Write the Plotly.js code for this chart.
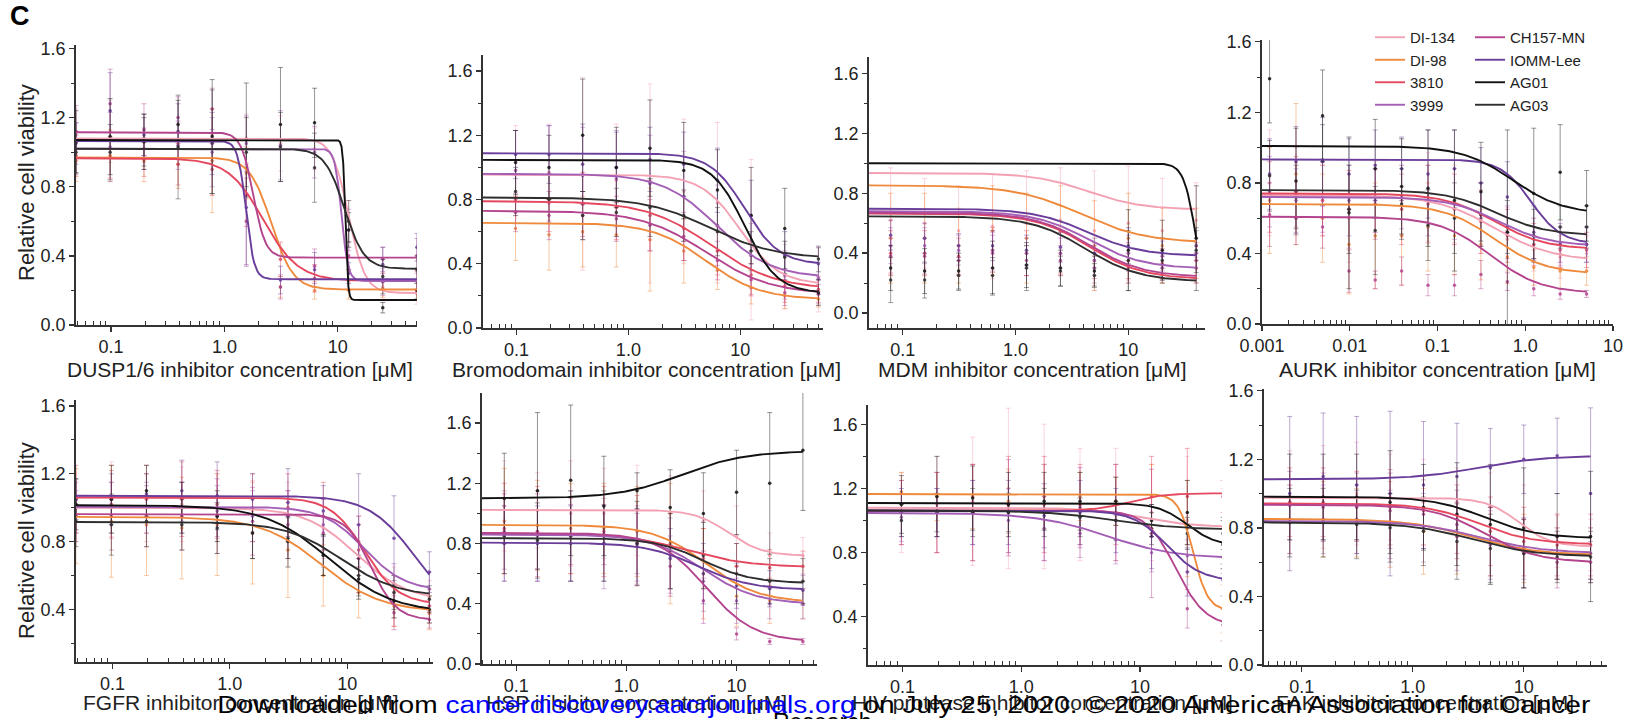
<!DOCTYPE html>
<html><head><meta charset="utf-8">
<script src="https://cdn.plot.ly/plotly-3.0.1.min.js"></script>
<style>html,body{margin:0;padding:0;background:#fff;}#chart{width:1628px;height:719px;}</style>
</head><body><div id="chart"></div>
<script>
// ---------------- DATA ----------------
const seriesNames = ['DI-134','DI-98','3810','3999','CH157-MN','IOMM-Lee','AG01','AG03'];
const xTitles = ['DUSP1/6 inhibitor concentration [μM]','Bromodomain inhibitor concentration [μM]','MDM inhibitor concentration [μM]','AURK inhibitor concentration [μM]','FGFR inhibitor concentration [μM]','HSP inhibitor concentration [μM]','HIV protease inhibitor concentration [μM]','FAK inhibitor concentration [μM]'];
const yTitle = 'Relative cell viability';
const panelLabel = 'C';
const xTickVals = [0.1,1,10];
const xTickText = ['0.1','1.0','10'];
const xTickValsAurk = [0.001,0.01,0.1,1,10];
const xTickTextAurk = ['0.001','0.01','0.1','1.0','10'];
const yTickVals = [0,0.4,0.8,1.2,1.6];
const yTickText = ['0.0','0.4','0.8','1.2','1.6'];

// Panel 1: DUSP1/6
const p1Conc = [0.049,0.098,0.195,0.39,0.78,1.56,3.125,6.25,12.5,25,50];
const p1Top = [1.08,0.97,0.965,1.02,1.115,1.065,1.07,1.02];
const p1Bottom = [0.185,0.205,0.255,0.255,0.39,0.265,0.145,0.325];
const p1IC50 = [12.5,2.6,2.2,10.8,1.8,1.55,11.7,11.5];
const p1Hill = [6,4.5,2.8,15,8,12,40,5];
const p1Mean = [
 [1.10,1.12,1.08,1.05,1.10,1.08,1.05,1.02,0.60,0.22,0.18],
 [0.95,0.98,0.95,0.93,0.95,0.88,0.22,0.20,0.20,0.21,0.20],
 [0.98,0.97,0.96,0.93,0.90,0.75,0.38,0.27,0.26,0.25,0.26],
 [1.02,1.03,1.02,1.04,1.00,1.05,1.04,1.00,0.55,0.25,0.26],
 [1.12,1.28,1.13,1.20,1.25,0.60,0.22,0.34,0.40,0.38,0.40],
 [1.05,1.24,1.10,1.12,1.05,0.68,0.26,0.32,0.30,0.35,0.45],
 [1.06,1.09,1.06,1.16,1.09,1.07,1.16,1.17,0.55,0.10,0.20],
 [1.00,1.00,1.06,1.03,1.06,1.00,1.03,0.91,0.60,0.28,0.32]];
const p1SD = [
 [0.15,0.18,0.14,0.12,0.15,0.14,0.16,0.12,0.12,0.08,0.06],
 [0.12,0.15,0.12,0.14,0.30,0.15,0.06,0.05,0.05,0.05,0.05],
 [0.12,0.12,0.10,0.12,0.15,0.18,0.10,0.08,0.06,0.05,0.05],
 [0.15,0.20,0.12,0.14,0.20,0.16,0.20,0.15,0.12,0.08,0.07],
 [0.15,0.20,0.15,0.12,0.12,0.25,0.07,0.10,0.08,0.07,0.10],
 [0.12,0.22,0.12,0.16,0.18,0.34,0.08,0.10,0.06,0.10,0.08],
 [0.18,0.22,0.16,0.14,0.33,0.33,0.33,0.20,0.10,0.03,0.05],
 [0.12,0.16,0.14,0.30,0.30,0.20,0.20,0.20,0.12,0.10,0.08]];

// Panel 2: Bromodomain
const p2Conc = [0.098,0.195,0.39,0.78,1.56,3.125,6.25,12.5,25,50];
const p2Top = [0.955,0.655,0.79,0.96,0.73,1.088,1.047,0.813];
const p2Bottom = [0.27,0.177,0.24,0.312,0.21,0.395,0.218,0.433];
const p2IC50 = [10,5,5.5,6.2,5,11,11,5.4];
const p2Hill = [2.5,1.8,1.5,1.8,1.5,2.8,3,1.5];
const p2Mean = [
 [0.98,0.97,0.96,0.92,0.90,0.85,0.78,0.55,0.32,0.30],
 [0.62,0.58,0.60,0.58,0.55,0.48,0.36,0.25,0.20,0.18],
 [0.80,0.78,0.77,0.75,0.70,0.62,0.48,0.33,0.26,0.24],
 [0.98,0.96,0.95,0.93,0.90,0.82,0.64,0.45,0.33,0.31],
 [0.72,0.70,0.70,0.68,0.64,0.57,0.42,0.30,0.22,0.21],
 [1.08,1.08,1.02,1.00,1.05,1.02,0.92,0.70,0.45,0.40],
 [1.03,1.00,1.20,1.00,1.12,0.98,0.86,0.70,0.62,0.22],
 [0.85,0.80,0.70,0.72,0.75,0.70,0.60,0.48,0.44,0.43]];
const p2SD = [
 [0.28,0.30,0.60,0.35,0.62,0.45,0.50,0.50,0.20,0.20],
 [0.20,0.22,0.22,0.20,0.32,0.20,0.12,0.10,0.08,0.05],
 [0.15,0.18,0.20,0.20,0.22,0.20,0.15,0.12,0.10,0.08],
 [0.25,0.30,0.30,0.30,0.30,0.28,0.25,0.20,0.15,0.10],
 [0.12,0.15,0.15,0.14,0.16,0.15,0.12,0.10,0.08,0.06],
 [0.15,0.18,0.25,0.22,0.20,0.20,0.20,0.22,0.15,0.10],
 [0.20,0.20,0.35,0.25,0.30,0.30,0.25,0.30,0.25,0.08],
 [0.15,0.15,0.15,0.15,0.18,0.16,0.15,0.12,0.10,0.08]];

// Panel 3: MDM
const p3Conc = [0.078,0.156,0.3125,0.625,1.25,2.5,5,10,20,40];
const p3Top = [0.935,0.853,0.664,0.68,0.67,0.697,1.0,0.646];
const p3Bottom = [0.69,0.468,0.225,0.296,0.24,0.38,0.0,0.21];
const p3IC50 = [4.4,3.8,4.5,4.5,4.5,4.4,40,4.2];
const p3Hill = [1.8,1.5,1.8,1.8,1.8,1.8,8,1.8];
const p3Mean = [
 [0.62,0.60,0.55,0.58,0.60,0.62,0.55,0.60,0.55,0.62],
 [0.50,0.50,0.45,0.55,0.50,0.55,0.45,0.50,0.45,0.45],
 [0.40,0.40,0.38,0.42,0.40,0.40,0.35,0.35,0.33,0.35],
 [0.45,0.45,0.42,0.42,0.40,0.40,0.35,0.40,0.38,0.40],
 [0.38,0.38,0.35,0.40,0.35,0.35,0.30,0.30,0.30,0.30],
 [0.52,0.50,0.45,0.45,0.42,0.44,0.40,0.45,0.40,0.45],
 [0.30,0.28,0.28,0.30,0.32,0.30,0.28,0.42,0.42,0.50],
 [0.22,0.22,0.25,0.25,0.30,0.28,0.25,0.35,0.35,0.42]];
const p3SD = [
 [0.35,0.30,0.30,0.35,0.35,0.35,0.40,0.38,0.35,0.25],
 [0.30,0.30,0.25,0.30,0.30,0.30,0.30,0.30,0.25,0.25],
 [0.15,0.15,0.12,0.15,0.15,0.14,0.12,0.12,0.10,0.12],
 [0.12,0.12,0.10,0.12,0.10,0.10,0.10,0.12,0.10,0.10],
 [0.12,0.12,0.10,0.12,0.10,0.10,0.10,0.10,0.08,0.10],
 [0.10,0.10,0.08,0.10,0.10,0.10,0.10,0.12,0.10,0.10],
 [0.15,0.15,0.12,0.18,0.15,0.12,0.10,0.27,0.20,0.35],
 [0.15,0.12,0.10,0.12,0.15,0.10,0.08,0.20,0.15,0.15]];

// Panel 4: AURK
const p4Conc = [0.00122,0.00244,0.0049,0.0098,0.0195,0.039,0.078,0.156,0.3125,0.625,1.25,2.5,5];
const p4Top = [0.73,0.68,0.74,0.72,0.608,0.933,1.009,0.759];
const p4Bottom = [0.357,0.283,0.423,0.442,0.174,0.453,0.623,0.502];
const p4IC50 = [0.45,0.45,0.45,0.5,0.4,1.17,0.72,0.47];
const p4Hill = [1.3,1.5,1.5,1.5,1.5,2.5,1.5,1.5];
const p4Mean = [
 [0.80,0.75,0.70,0.60,0.72,0.70,0.72,0.68,0.60,0.48,0.45,0.38,0.40],
 [0.70,0.85,0.60,0.45,0.50,0.50,0.55,0.50,0.45,0.38,0.32,0.30,0.30],
 [0.72,0.75,0.70,0.65,0.68,0.65,0.68,0.65,0.58,0.50,0.45,0.42,0.42],
 [0.75,0.70,0.72,0.70,0.70,0.72,0.70,0.68,0.62,0.52,0.48,0.45,0.45],
 [0.62,0.60,0.55,0.30,0.25,0.30,0.22,0.22,0.28,0.24,0.20,0.17,0.17],
 [0.85,0.92,0.92,0.85,0.90,0.88,0.85,0.88,0.80,0.72,0.52,0.45,0.45],
 [1.39,0.81,1.18,0.63,0.88,0.78,0.77,0.70,0.75,0.52,0.74,0.86,0.67],
 [0.84,0.72,0.93,0.65,0.53,0.68,0.56,0.60,0.62,0.55,0.50,0.55,0.55]];
const p4SD = [
 [0.30,0.25,0.20,0.25,0.20,0.20,0.25,0.22,0.20,0.18,0.15,0.12,0.10],
 [0.30,0.40,0.25,0.28,0.30,0.28,0.25,0.22,0.20,0.15,0.10,0.10,0.08],
 [0.20,0.20,0.20,0.22,0.20,0.20,0.22,0.20,0.18,0.15,0.12,0.10,0.10],
 [0.20,0.18,0.20,0.20,0.18,0.18,0.20,0.20,0.18,0.15,0.12,0.12,0.10],
 [0.18,0.15,0.12,0.12,0.05,0.08,0.06,0.06,0.08,0.05,0.04,0.03,0.02],
 [0.20,0.20,0.25,0.20,0.20,0.18,0.25,0.22,0.20,0.20,0.15,0.10,0.10],
 [0.25,0.30,0.26,0.43,0.28,0.27,0.33,0.40,0.28,0.58,0.37,0.27,0.20],
 [0.20,0.18,0.20,0.25,0.25,0.20,0.20,0.20,0.18,0.15,0.15,0.12,0.12]];

// Panel 5: FGFR
const p5Conc = [0.049,0.098,0.195,0.39,0.78,1.56,3.125,6.25,12.5,25,50];
const p5Top = [1.0,0.946,1.06,1.005,0.962,1.07,1.015,0.916];
const p5Bottom = [0.45,0.385,0.43,0.51,0.337,0.35,0.38,0.474];
const p5IC50 = [12,6,14,14,16,38,7,9];
const p5Hill = [2,1.7,3,2.5,4,2.2,1.6,1.8];
const p5Mean = [
 [1.00,1.05,1.00,1.02,1.00,0.98,0.95,0.88,0.70,0.50,0.47],
 [0.95,0.92,0.90,0.88,0.90,0.85,0.75,0.60,0.50,0.42,0.38],
 [1.05,1.02,1.05,1.05,1.02,1.00,1.00,0.95,0.75,0.45,0.42],
 [1.00,1.00,1.00,1.00,0.98,0.95,0.95,0.90,0.80,0.55,0.52],
 [0.95,0.95,0.95,0.95,0.95,0.92,0.90,0.85,0.70,0.38,0.34],
 [1.05,1.05,1.08,1.10,1.07,1.05,1.03,0.98,0.90,0.82,0.62],
 [1.02,1.05,1.10,1.00,0.95,0.85,0.80,0.72,0.58,0.45,0.40],
 [0.92,0.90,0.92,0.90,0.88,0.85,0.82,0.72,0.60,0.50,0.46]];
const p5SD = [
 [0.20,0.22,0.20,0.22,0.20,0.18,0.20,0.18,0.20,0.15,0.10],
 [0.28,0.33,0.30,0.30,0.30,0.30,0.28,0.18,0.15,0.12,0.10],
 [0.20,0.20,0.20,0.22,0.20,0.20,0.20,0.20,0.20,0.15,0.10],
 [0.15,0.15,0.15,0.15,0.15,0.15,0.15,0.15,0.15,0.12,0.10],
 [0.15,0.20,0.18,0.20,0.22,0.20,0.20,0.20,0.20,0.10,0.05],
 [0.12,0.15,0.12,0.18,0.20,0.15,0.20,0.15,0.30,0.25,0.12],
 [0.15,0.20,0.15,0.15,0.15,0.15,0.15,0.12,0.12,0.10,0.08],
 [0.15,0.18,0.15,0.15,0.15,0.15,0.12,0.12,0.12,0.10,0.08]];

// Panel 6: HSP
const p6Conc = [0.078,0.156,0.3125,0.625,1.25,2.5,5,10,20,40];
const p6Top = [1.024,0.924,0.87,0.86,0.87,0.806,1.10,0.836];
const p6Bottom = [0.718,0.408,0.643,0.397,0.148,0.492,1.416,0.537];
const p6IC50 = [8.5,5.3,3.5,5,5.3,4.5,3.2,5];
const p6Hill = [2.8,1.8,1.5,1.8,2,1.8,1.5,2];
const p6Mean = [
 [1.05,1.02,1.00,1.00,1.02,1.00,0.95,0.85,0.72,0.72],
 [0.95,0.92,0.90,0.90,0.88,0.80,0.60,0.45,0.42,0.40],
 [0.90,0.88,0.85,0.88,0.82,0.75,0.70,0.65,0.64,0.65],
 [0.85,0.85,0.85,0.80,0.80,0.72,0.55,0.42,0.40,0.40],
 [0.88,0.88,0.86,0.86,0.80,0.65,0.42,0.20,0.15,0.15],
 [0.80,0.80,0.80,0.80,0.78,0.70,0.60,0.52,0.50,0.49],
 [1.10,1.15,1.22,1.05,1.15,1.04,1.00,1.14,1.20,1.42],
 [0.85,0.82,0.85,0.85,0.80,0.75,0.72,0.60,0.55,0.55]];
const p6SD = [
 [0.30,0.25,0.35,0.30,0.30,0.25,0.20,0.20,0.15,0.12],
 [0.35,0.30,0.30,0.30,0.30,0.40,0.30,0.20,0.15,0.10],
 [0.30,0.30,0.25,0.30,0.30,0.25,0.20,0.15,0.12,0.10],
 [0.30,0.30,0.30,0.30,0.25,0.25,0.20,0.15,0.10,0.10],
 [0.25,0.25,0.20,0.20,0.20,0.20,0.15,0.04,0.02,0.02],
 [0.25,0.25,0.25,0.25,0.25,0.20,0.20,0.15,0.12,0.10],
 [0.30,0.52,0.50,0.33,0.12,0.25,0.27,0.28,0.47,0.40],
 [0.25,0.25,0.30,0.30,0.28,0.25,0.22,0.20,0.15,0.15]];

// Panel 7: HIV protease
const p7Conc = [0.098,0.195,0.39,0.78,1.56,3.125,6.25,12.5,25,50];
const p7Top = [1.08,1.165,1.06,1.047,1.063,1.063,1.109,1.063];
const p7Bottom = [0.96,0.44,1.17,0.763,0.342,0.622,0.84,0.943];
const p7IC50 = [10,28,8,5.2,20,17,25,6];
const p7Hill = [2,7,3,1.5,3.5,3,3.5,1.5];
const p7Mean = [
 [1.05,1.10,1.12,1.20,1.15,1.10,1.10,1.05,1.00,0.95],
 [1.18,1.15,1.15,1.12,1.15,1.15,1.12,1.15,0.95,0.45],
 [1.05,1.05,1.05,1.10,1.10,1.10,1.10,1.15,1.15,1.15],
 [1.02,1.05,1.05,1.00,0.95,0.92,0.88,0.80,0.78,0.77],
 [1.05,1.05,1.05,1.08,1.05,1.08,1.05,0.92,0.45,0.35],
 [1.05,1.05,1.05,1.05,1.03,1.05,1.00,0.90,0.68,0.63],
 [1.10,1.15,1.14,1.10,1.12,1.12,1.12,1.00,1.05,0.85],
 [1.00,1.05,1.05,1.05,1.05,1.02,1.00,0.95,0.92,0.92]];
const p7SD = [
 [0.25,0.30,0.40,0.50,0.45,0.35,0.35,0.30,0.40,0.25],
 [0.12,0.15,0.20,0.20,0.20,0.15,0.15,0.20,0.30,0.15],
 [0.20,0.25,0.30,0.30,0.30,0.25,0.25,0.25,0.30,0.10],
 [0.15,0.15,0.20,0.20,0.20,0.15,0.15,0.12,0.10,0.10],
 [0.20,0.25,0.30,0.30,0.30,0.25,0.30,0.40,0.12,0.10],
 [0.15,0.15,0.20,0.20,0.20,0.20,0.20,0.20,0.15,0.10],
 [0.18,0.25,0.20,0.20,0.18,0.18,0.15,0.10,0.20,0.15],
 [0.10,0.12,0.15,0.12,0.15,0.12,0.12,0.10,0.10,0.10]];

// Panel 8: FAK
const p8Conc = [0.078,0.156,0.3125,0.625,1.25,2.5,5,10,20,40];
const p8Top = [0.975,0.852,0.943,0.84,0.935,1.083,0.982,0.832];
const p8Bottom = [0.69,0.64,0.704,0.652,0.597,1.221,0.739,0.632];
const p8IC50 = [9,3.5,4,4,4.5,4,4.5,3.5];
const p8Hill = [3,1.5,1.8,1.5,1.8,1.5,1.8,1.5];
const p8Mean = [
 [0.95,0.98,1.00,0.98,0.95,0.95,0.92,0.85,0.72,0.70],
 [0.85,0.85,0.83,0.82,0.78,0.75,0.72,0.68,0.65,0.65],
 [0.95,0.95,0.93,0.92,0.90,0.85,0.78,0.72,0.70,0.70],
 [0.85,0.85,0.85,0.82,0.80,0.75,0.70,0.68,0.65,0.65],
 [0.93,0.92,0.92,0.90,0.88,0.82,0.72,0.65,0.60,0.60],
 [1.00,1.10,1.05,1.00,1.05,1.10,1.15,1.20,1.22,1.00],
 [0.98,0.98,0.98,0.95,0.92,0.88,0.82,0.80,0.75,0.75],
 [0.83,0.83,0.82,0.80,0.78,0.72,0.68,0.65,0.63,0.63]];
const p8SD = [
 [0.30,0.30,0.30,0.25,0.25,0.20,0.20,0.20,0.15,0.15],
 [0.20,0.22,0.20,0.25,0.25,0.22,0.20,0.20,0.15,0.15],
 [0.20,0.20,0.20,0.22,0.20,0.20,0.20,0.20,0.18,0.18],
 [0.20,0.20,0.20,0.20,0.20,0.20,0.20,0.18,0.15,0.15],
 [0.20,0.20,0.20,0.22,0.20,0.20,0.20,0.20,0.15,0.12],
 [0.45,0.37,0.40,0.48,0.37,0.31,0.23,0.20,0.22,0.50],
 [0.25,0.25,0.25,0.30,0.25,0.30,0.35,0.35,0.25,0.38],
 [0.20,0.20,0.20,0.20,0.20,0.22,0.20,0.20,0.15,0.15]];

// ---------------- STYLE / LAYOUT ----------------
const W = 1628, H = 719;
const seriesColors = ['#f3a2b4','#ef8a3c','#e5485e','#a35fb5','#b4448e','#6a3d9a','#111111','#2e2e2e'];
const FONT = 'Liberation Sans, Arial, sans-serif';
const AX = '#333333';

const panels = [
 {conc:p1Conc, top:p1Top, bot:p1Bottom, ic:p1IC50, hill:p1Hill, mean:p1Mean, sd:p1SD, xpx:[76,417], xr:[-1.31,1.70], ypx:[45,325], yr:[0,1.62], tx:240, ty:369},
 {conc:p2Conc, top:p2Top, bot:p2Bottom, ic:p2IC50, hill:p2Hill, mean:p2Mean, sd:p2SD, xpx:[483,823], xr:[-1.30,1.74], ypx:[55,328], yr:[0,1.70], tx:646, ty:369},
 {conc:p3Conc, top:p3Top, bot:p3Bottom, ic:p3IC50, hill:p3Hill, mean:p3Mean, sd:p3SD, xpx:[869,1205], xr:[-1.30,1.68], ypx:[57,328], yr:[-0.10,1.71], tx:1032, ty:369},
 {conc:p4Conc, top:p4Top, bot:p4Bottom, ic:p4IC50, hill:p4Hill, mean:p4Mean, sd:p4SD, xpx:[1262,1613], xr:[-3,1], ypx:[40,324], yr:[0,1.61], tx:1437, ty:369, aurk:true},
 {conc:p5Conc, top:p5Top, bot:p5Bottom, ic:p5IC50, hill:p5Hill, mean:p5Mean, sd:p5SD, xpx:[76,433], xr:[-1.31,1.73], ypx:[400,662], yr:[0.09,1.635], tx:241, ty:702},
 {conc:p6Conc, top:p6Top, bot:p6Bottom, ic:p6IC50, hill:p6Hill, mean:p6Mean, sd:p6SD, xpx:[482,817], xr:[-1.31,1.73], ypx:[393,664], yr:[0,1.80], tx:636, ty:702},
 {conc:p7Conc, top:p7Top, bot:p7Bottom, ic:p7IC50, hill:p7Hill, mean:p7Mean, sd:p7SD, xpx:[868,1222], xr:[-1.29,1.69], ypx:[405,665], yr:[0.10,1.72], tx:1042, ty:702},
 {conc:p8Conc, top:p8Top, bot:p8Bottom, ic:p8IC50, hill:p8Hill, mean:p8Mean, sd:p8SD, xpx:[1264,1607], xr:[-1.34,1.75], ypx:[389,665], yr:[0,1.61], tx:1425, ty:702}
];

function rgba(hex, a){
  const n = parseInt(hex.slice(1),16);
  return 'rgba('+((n>>16)&255)+','+((n>>8)&255)+','+(n&255)+','+a+')';
}
const minorX = [];
for (let k=-4;k<=2;k++) for (let m=2;m<=9;m++) minorX.push(m*Math.pow(10,k));

const traces = [];
const legFont = {size:15,family:FONT,color:'#222'};
const layout = {
  width:W, height:H, autosize:false,
  margin:{l:0,r:0,t:0,b:0,pad:0},
  paper_bgcolor:'#ffffff', plot_bgcolor:'rgba(0,0,0,0)',
  font:{family:FONT, color:'#222', size:18},
  showlegend:true,
  legend:{x:1370/W, y:1-21/H, xanchor:'left', yanchor:'top', bgcolor:'rgba(0,0,0,0)', font:legFont, tracegroupgap:0, itemwidth:30},
  legend2:{x:1470/W, y:1-21/H, xanchor:'left', yanchor:'top', bgcolor:'rgba(0,0,0,0)', font:legFont, tracegroupgap:0, itemwidth:30},
  annotations:[], shapes:[]
};

panels.forEach((p, i) => {
  const ax = i===0 ? '' : String(i+1);
  const xa = 'x'+ax, ya = 'y'+ax;
  layout['xaxis'+ax] = {
    type:'log', range:p.xr, anchor:ya,
    domain:[p.xpx[0]/W, p.xpx[1]/W],
    tickmode:'array', tickvals: p.aurk ? xTickValsAurk : xTickVals, ticktext: p.aurk ? xTickTextAurk : xTickText,
    ticks:'outside', ticklen:5, tickwidth:1.3, tickcolor:AX,
    minor:{tickmode:'array', tickvals:minorX, ticks:'inside', ticklen:4, tickwidth:1, tickcolor:AX, showgrid:false},
    showline:true, linecolor:AX, linewidth:1.8, mirror:false,
    showgrid:false, zeroline:false, fixedrange:true,
    tickfont:{size:18, family:FONT, color:'#222'}
  };
  layout['yaxis'+ax] = {
    range:p.yr, anchor:xa,
    domain:[1-p.ypx[1]/H, 1-p.ypx[0]/H],
    tickmode:'array', tickvals:yTickVals, ticktext:yTickText,
    ticks:'outside', ticklen:5, tickwidth:1.3, tickcolor:AX,
    minor:{tickmode:'array', tickvals:[0.2,0.6,1.0,1.4], ticks:'outside', ticklen:3, tickwidth:1, tickcolor:AX, showgrid:false},
    showline:true, linecolor:AX, linewidth:1.8, mirror:false,
    showgrid:false, zeroline:false, fixedrange:true,
    tickfont:{size:18, family:FONT, color:'#222'}
  };
  // error-bar points
  seriesNames.forEach((name, s) => {
    traces.push({
      type:'scatter', mode:'markers', x:p.conc, y:p.mean[s], xaxis:xa, yaxis:ya,
      showlegend:false, hoverinfo:'skip',
      marker:{size:3.5, color:rgba(seriesColors[s],0.85)},
      error_y:{type:'data', array:p.sd[s], visible:true, color:rgba(seriesColors[s],0.45), thickness:1, width:2.5}
    });
  });
  // fitted curves
  const x0 = Math.pow(10, p.xr[0]);
  const x1 = p.conc[p.conc.length-1];
  const N = 200;
  seriesNames.forEach((name, s) => {
    const xs = [], ys = [];
    for (let k=0;k<N;k++){
      const lx = Math.log10(x0) + (Math.log10(x1)-Math.log10(x0))*k/(N-1);
      const xv = Math.pow(10,lx);
      xs.push(xv);
      ys.push(p.bot[s] + (p.top[s]-p.bot[s])/(1+Math.pow(xv/p.ic[s], p.hill[s])));
    }
    traces.push({
      type:'scatter', mode:'lines', x:xs, y:ys, xaxis:xa, yaxis:ya,
      name:name, showlegend: i===0, legend: s<4 ? 'legend' : 'legend2',
      line:{color:seriesColors[s], width:1.9}, hoverinfo:'skip'
    });
  });
  layout.annotations.push({
    xref:'paper', yref:'paper', x:p.tx/W, y:1-p.ty/H, xanchor:'center', yanchor:'middle',
    text:xTitles[i], showarrow:false, font:{size:21, family:FONT, color:'#222'}
  });
});

// y titles
[183, 541].forEach(py => {
  layout.annotations.push({
    xref:'paper', yref:'paper', x:26/W, y:1-py/H, xanchor:'center', yanchor:'middle',
    text:yTitle, textangle:-90, showarrow:false, font:{size:22, family:FONT, color:'#222'}
  });
});
// panel letter
layout.annotations.push({
  xref:'paper', yref:'paper', x:20/W, y:1-16/H, xanchor:'center', yanchor:'middle',
  text:'<b>'+panelLabel+'</b>', showarrow:false, font:{size:27, family:FONT, color:'#000'}
});
// watermark
const wmLine1 = 'Downloaded from <span style="color:#0000ff">cancerdiscovery.aacrjournals.org</span> on July 25, 2020. © 2020 American Association for Cancer';
layout.annotations.push({
  xref:'paper', yref:'paper', x:904/W, y:1-705/H, xanchor:'center', yanchor:'middle',
  text:wmLine1, showarrow:false, font:{size:23, family:FONT, color:'#000'}
});
layout.annotations.push({
  xref:'paper', yref:'paper', x:822/W, y:1-707/H, xanchor:'center', yanchor:'top',
  text:'Research', showarrow:false, font:{size:23, family:FONT, color:'#000'}
});

Plotly.newPlot('chart', traces, layout, {displayModeBar:false, staticPlot:true}).then(() => {
  // stretch the watermark line horizontally to the width it has in the source page
  document.querySelectorAll('.annotation-text').forEach(t => {
    if (t.textContent.indexOf('Downloaded') === 0) {
      t.setAttribute('textLength', '1373');
      t.setAttribute('lengthAdjust', 'spacingAndGlyphs');
    }
  });
});
</script>
</body></html>
